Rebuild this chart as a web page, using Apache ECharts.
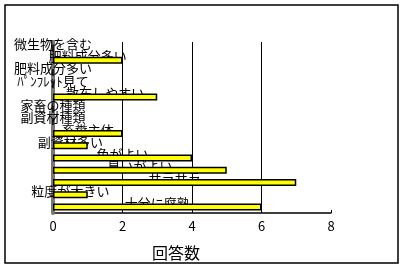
<!DOCTYPE html>
<html>
<head>
<meta charset="utf-8">
<script src="https://cdn.jsdelivr.net/npm/echarts@6/dist/echarts.min.js"></script>
<style>html,body{margin:0;padding:0;background:#fff}#c{width:404px;height:269px}</style>
</head>
<body>
<div id="c"></div>
<script>
// Categories (top to bottom) and answer counts
var categories = ['微生物を含む','肥料成分多い','肥料成分多い','ﾊﾟﾝﾌﾚｯﾄ見て','散布しやすい','家畜の種類','副資材種類','畜糞主体','副資材多い','色がよい','臭いがよい','サラサラ','粒度が大きい','十分に腐熟'];
var values = [0,2,0,0,3,0,0,2,1,4,5,7,1,6];
var xTicks = [0,2,4,6,8];
var axisName = '回答数';

var rowKeys = categories.map(function(c,i){return String(i);});
var font = '"Noto Sans CJK JP", "Noto Sans", sans-serif';
var chart = echarts.init(document.getElementById('c'), null, {renderer:'canvas'});
chart.setOption({
  animation:false,
  backgroundColor:'#fff',
  title:{text:axisName,left:147,top:240,textStyle:{fontSize:16,fontWeight:'normal',color:'#000',fontFamily:font}},
  graphic:[{type:'rect',shape:{x:5,y:5,width:393,height:258},style:{fill:'none',stroke:'#000',lineWidth:1.5},silent:true}],
  grid:{left:53,right:73,top:42,bottom:56},
  xAxis:{type:'value',min:xTicks[0],max:xTicks[xTicks.length-1],interval:2,
    axisLine:{show:true,lineStyle:{color:'#000',width:1.5}},
    axisTick:{show:true,inside:true,length:3,lineStyle:{color:'#000'}},
    axisLabel:{fontSize:13,color:'#000',margin:7,fontFamily:font,formatter:function(v){return xTicks.indexOf(v)>=0?String(v):'';}},
    splitLine:{show:true,showMinLine:false,showMaxLine:false,lineStyle:{color:'#000',width:1}}},
  yAxis:{type:'category',inverse:true,data:rowKeys,z:1,
    axisLine:{show:true,lineStyle:{color:'#777777',width:4}},
    axisTick:{show:false},axisLabel:{show:false},splitLine:{show:false}},
  series:[
    {type:'bar',data:values,barWidth:7,z:2,
      itemStyle:{color:'rgba(0,0,0,0)',borderWidth:0},
      label:{show:true,position:'inside',offset:[0,-4],color:'#000',fontSize:13,fontFamily:font,
        formatter:function(p){return categories[p.dataIndex];}}},
    {type:'bar',data:values,barWidth:7,barGap:'-100%',z:3,
      itemStyle:{color:'#ffff00',borderColor:'#000',borderWidth:1.5},
      label:{show:false}}
  ]
});
</script>
</body>
</html>
